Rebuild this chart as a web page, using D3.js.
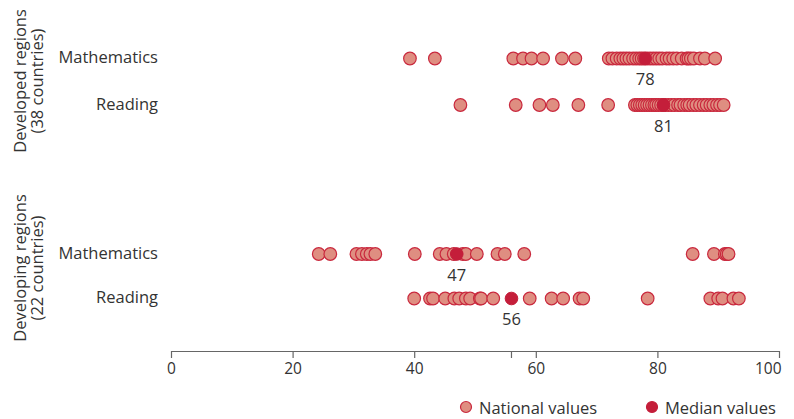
<!DOCTYPE html>
<html>
<head>
<meta charset="utf-8">
<script src="https://cdn.jsdelivr.net/npm/d3@7"></script>
<style>
  html, body { margin: 0; padding: 0; background: #fff; }
  svg { display: block; }
  text { font-family: "Open Sans", "Noto Sans", sans-serif; fill: #333; font-weight: 400; }
</style>
</head>
<body>
<svg id="chart" width="794" height="419"></svg>
<script>
// ---- data ----
const groups = ["Developed regions", "Developing regions"];
const groupCounts = ["(38 countries)", "(22 countries)"];
const subjects = ["Mathematics", "Reading"];

const developedMath = [39.3, 43.4, 56.3, 57.9, 59.3, 61.2, 64.3, 66.5,
  72.0, 72.6, 73.3, 73.9, 74.4, 74.9, 75.4, 76.0, 76.5, 77.0, 77.4, 77.8,
  78.3, 78.8, 79.3, 79.8, 80.3, 80.8, 81.5, 82.0, 82.6, 83.2, 84.0, 84.8,
  85.1, 85.5, 86.0, 87.0, 87.8, 89.5];
const developedReading = [47.6, 56.7, 60.6, 62.8, 67.0, 71.9,
  76.3, 76.7, 77.1, 77.5, 77.9, 78.3, 78.7, 79.1, 79.5, 79.8, 80.2, 80.6,
  81.0, 81.3, 81.8, 82.3, 82.8, 83.4, 83.8, 84.4, 84.9, 85.3, 85.9, 86.4,
  87.0, 87.6, 88.1, 88.7, 89.2, 89.8, 90.3, 90.9];
const developingMath = [24.3, 26.2, 30.5, 31.4, 32.2, 32.8, 33.6, 40.1,
  44.2, 45.3, 46.5, 48.0, 48.5, 50.3, 53.7, 54.9, 58.1, 85.8, 89.3, 91.1,
  91.4, 91.7];
const developingReading = [40.0, 42.6, 43.1, 45.1, 46.6, 47.4, 48.5, 49.2,
  50.8, 51.0, 53.0, 59.0, 62.6, 64.5, 67.2, 67.8, 78.4, 88.7, 90.0, 90.7,
  92.5, 93.4];
const medians = [78, 81, 47, 56];
const tickValues = [0, 20, 40, 60, 80, 100];
const extraTicks = [56];
const legendLabels = ["National values", "Median values"];

// ---- rows ----
const rows = [
  { group: 0, subject: subjects[0], values: developedMath, median: medians[0] },
  { group: 0, subject: subjects[1], values: developedReading, median: medians[1] },
  { group: 1, subject: subjects[0], values: developingMath, median: medians[2] },
  { group: 1, subject: subjects[1], values: developingReading, median: medians[3] }
];

const svg = d3.select("#chart");
const natFill = "#df8e81", natStroke = "#c9283d", medFill = "#c41e3a";
const r = 6.3;

const x = d3.scaleLinear().domain([0, 100]).range([171, 779]);
const rowY = [58.5, 105, 254, 298.5];

// row labels
rows.forEach((row, i) => {
  svg.append("text")
    .attr("x", 158).attr("y", rowY[i] - 2)
    .attr("text-anchor", "end").attr("dominant-baseline", "central")
    .style("font-size", "16.5px")
    .text(row.subject);
});

// group labels (rotated)
const groupCenters = [81, 268];
groups.forEach((g, i) => {
  const t = svg.append("text")
    .attr("transform", `translate(0,${groupCenters[i]}) rotate(-90)`)
    .attr("text-anchor", "middle")
    .style("font-size", "16.5px");
  t.append("tspan").attr("x", 0).attr("y", 26).text(g);
  t.append("tspan").attr("x", 0).attr("y", 43).text(groupCounts[i]);
});

// national dots
rows.forEach((row, i) => {
  svg.append("g").selectAll("circle")
    .data(row.values)
    .join("circle")
    .attr("cx", d => x(d))
    .attr("cy", rowY[i])
    .attr("r", r)
    .attr("fill", natFill)
    .attr("stroke", natStroke)
    .attr("stroke-width", 1.2);
});

// medians
rows.forEach((row, i) => {
  svg.append("circle")
    .attr("cx", x(row.median)).attr("cy", rowY[i]).attr("r", r)
    .attr("fill", medFill).attr("stroke", medFill).attr("stroke-width", 1);
  svg.append("text")
    .attr("x", x(row.median)).attr("y", rowY[i] + 20)
    .attr("text-anchor", "middle").attr("dominant-baseline", "central")
    .style("font-size", "16.5px")
    .text(row.median);
});

// axis
const axisG = svg.append("g").attr("transform", "translate(0,351)");
const axis = d3.axisBottom(x).tickValues(tickValues).tickSize(7).tickPadding(5).tickSizeOuter(0);
axisG.call(axis);
axisG.select(".domain").attr("stroke", "#666").attr("stroke-width", 1.2);
axisG.selectAll(".tick line").attr("stroke", "#666").attr("stroke-width", 1.2);
axisG.selectAll(".tick text")
  .style("font-family", '"Open Sans", "Noto Sans", sans-serif')
  .style("font-size", "15.5px").attr("fill", "#333");
axisG.selectAll(".tick text").filter(d => d === 100)
  .attr("text-anchor", "end").attr("x", 2);
axisG.selectAll(".extra").data(extraTicks).join("line")
  .attr("class", "extra")
  .attr("x1", d => x(d)).attr("x2", d => x(d))
  .attr("y1", 0).attr("y2", 7)
  .attr("stroke", "#666").attr("stroke-width", 1.2);

// legend
const legendX = [466, 652];
legendLabels.forEach((l, i) => {
  svg.append("circle")
    .attr("cx", legendX[i]).attr("cy", 407).attr("r", 5.5)
    .attr("fill", i === 0 ? natFill : medFill)
    .attr("stroke", i === 0 ? natStroke : medFill).attr("stroke-width", 1.2);
  svg.append("text")
    .attr("x", legendX[i] + 13).attr("y", 407)
    .attr("dominant-baseline", "central")
    .style("font-size", "16.5px")
    .text(l);
});
</script>
</body>
</html>
